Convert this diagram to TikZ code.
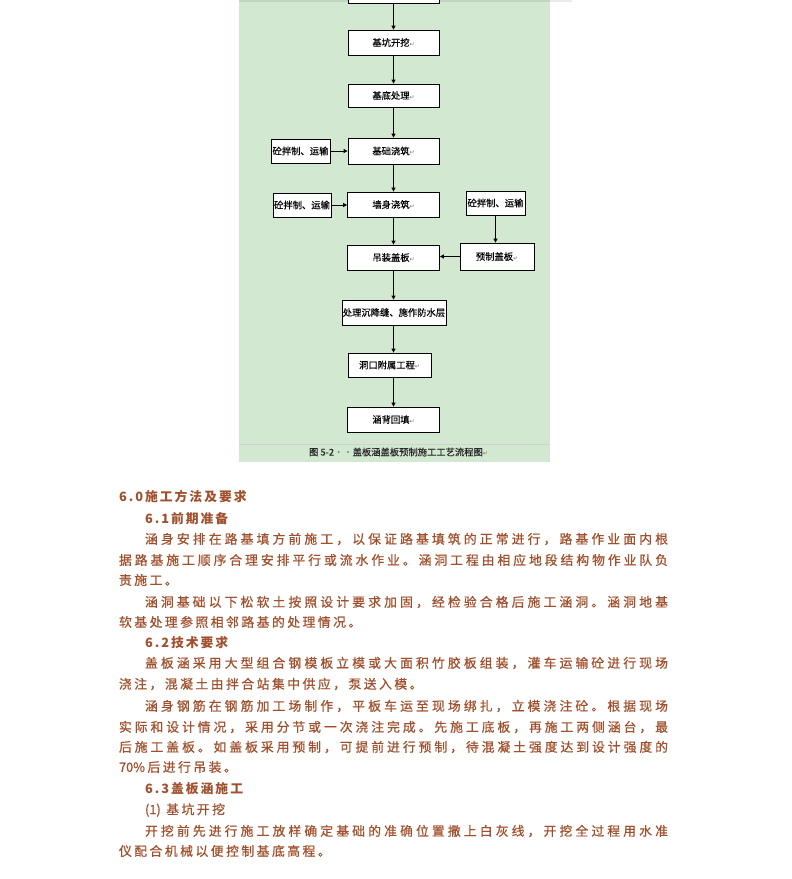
\documentclass[tikz,border=0pt]{standalone}
\usepackage{fontspec}
\setmainfont{Noto Sans CJK SC}
\newfontfamily\bodyfont{Noto Sans CJK SC}[FakeBold=0.7]
\newfontfamily\boxfont{Noto Sans CJK SC}[FakeBold=0.3]
\newfontfamily\symfont{DejaVu Sans}
\usetikzlibrary{arrows.meta}
\definecolor{panel}{HTML}{D3E8D0}
\definecolor{paneltop}{HTML}{C2D6BF}
\definecolor{txt}{RGB}{160,80,45}
\ExplSyntaxOn
\NewDocumentCommand \spreadto { m m }
  { \hbox_to_wd:nn {#1} { \tl_map_inline:nn {#2} { ##1 \hfil } \unskip } }
\NewDocumentCommand \natgap { m m }
  { \hbox:n { \tl_map_inline:nn {#2} { ##1 \skip_horizontal:n {#1} } \unskip } }
\ExplSyntaxOff
\newcommand\ret{{\symfont\fontsize{6}{6}\selectfont\color{black!55}↵}}
\tikzset{
  flowbox/.style={draw, line width=0.8pt, fill=white, inner sep=0pt,
    font=\boxfont\fontsize{9.3}{9.3}\selectfont, text=black},
  arr/.style={line width=0.8pt, -{Triangle[length=4pt,width=4pt]}},
  txtline/.style={anchor=west, inner sep=0pt, outer sep=0pt, text=txt,
    font=\bodyfont\fontsize{12.8}{12.8}\selectfont},
  headline/.style={anchor=west, inner sep=0pt, outer sep=0pt, text=txt,
    font=\fontsize{12.8}{12.8}\selectfont\bfseries}
}
\begin{document}
\begin{tikzpicture}[x=1pt, y=-1pt]
\useasboundingbox (0,0) rectangle (792,879);
\clip (0,0) rectangle (792,879);
\fill[white] (0,0) rectangle (792,879);
% panel
\fill[panel] (238.5,0) rectangle (550,462);
\fill[black!8] (550,0) rectangle (572,2);
\fill[paneltop] (238.5,0) rectangle (550,1.5);
\draw[black!18, line width=0.6pt] (238.5,444) -- (550,444);

% flow boxes
\node[flowbox, minimum width=91pt, minimum height=23pt] (k0) at (393.5,-8.5) {};
\node[flowbox, minimum width=91pt, minimum height=25pt] (k1) at (393.5,42.5) {基坑开挖\ret};
\node[flowbox, minimum width=91pt, minimum height=23pt] (k2) at (393.5,95.5) {基底处理\ret};
\node[flowbox, minimum width=91pt, minimum height=26pt] (k3) at (393.5,151) {基础浇筑\ret};
\node[flowbox, minimum width=92pt, minimum height=25pt] (k4) at (393.5,204.5) {墙身浇筑\ret};
\node[flowbox, minimum width=92pt, minimum height=25pt] (k5) at (393.5,257.5) {吊装盖板\ret};
\node[flowbox, minimum width=104pt, minimum height=25pt] (k6) at (394,312.5) {处理沉降缝、施作防水层};
\node[flowbox, minimum width=83pt, minimum height=24pt] (k7) at (389.5,365) {洞口附属工程\ret};
\node[flowbox, minimum width=92pt, minimum height=25pt] (k8) at (393.5,419.5) {涵背回填\ret};
\node[flowbox, minimum width=59pt, minimum height=24pt] (l1) at (300.5,151) {砼拌制、运输};
\node[flowbox, minimum width=58pt, minimum height=24pt] (l2) at (302,205) {砼拌制、运输};
\node[flowbox, minimum width=59pt, minimum height=24pt] (r1) at (495.5,203) {砼拌制、运输};
\node[flowbox, minimum width=74pt, minimum height=27pt] (r2) at (497,256.5) {预制盖板\ret};

% connectors
\draw[arr] (k0.south) -- (k1.north);
\draw[arr] (k1.south) -- (k2.north);
\draw[arr] (k2.south) -- (k3.north);
\draw[arr] (k3.south) -- (k4.north);
\draw[arr] (k4.south) -- (k5.north);
\draw[arr] (k5.south) -- (k5.south |- k6.north);
\draw[arr] (k5.south |- k6.south) -- (k5.south |- k7.north);
\draw[arr] (k5.south |- k7.south) -- (k8.north);
\draw[arr] (l1.east) -- (l1.east -| k3.west);
\draw[arr] (l2.east) -- (l2.east -| k4.west);
\draw[arr] (r1.south) -- (r1.south |- r2.north);
\draw[arr] (r2.west) -- (r2.west -| k5.east);

% caption
\node[inner sep=0pt, font=\boxfont\fontsize{9.3}{9.3}\selectfont, text=black!85] (cap) at (398.5,452)
  {图 5-2{\color{black!50}··}盖板涵盖板预制施工工艺流程图\ret};

% body text
\node[headline] (h60) at (119,497) {\natgap{2pt}{6.0施工方法及要求}};
\node[headline] (h61) at (145,519) {\natgap{2pt}{6.1前期准备}};
\node[txtline] (t1) at (145,539) {\spreadto{523pt}{涵身安排在路基填方前施工，以保证路基填筑的正常进行，路基作业面内根}};
\node[txtline] (t2) at (119,560) {\spreadto{549pt}{据路基施工顺序合理安排平行或流水作业。涵洞工程由相应地段结构物作业队负}};
\node[txtline] (t3) at (119,580) {\natgap{2.5pt}{责施工。}};
\node[txtline] (t4) at (145,602) {\spreadto{523pt}{涵洞基础以下松软土按照设计要求加固，经检验合格后施工涵洞。涵洞地基}};
\node[txtline] (t5) at (119,622) {\natgap{2.5pt}{软基处理参照相邻路基的处理情况。}};
\node[headline] (h62) at (145,643) {\natgap{2pt}{6.2技术要求}};
\node[txtline] (t6) at (145,663) {\spreadto{523pt}{盖板涵采用大型组合钢模板立模或大面积竹胶板组装，灌车运输砼进行现场}};
\node[txtline] (t7) at (119,684) {\natgap{2.5pt}{浇注，混凝土由拌合站集中供应，泵送入模。}};
\node[txtline] (t8) at (145,706) {\spreadto{523pt}{涵身钢筋在钢筋加工场制作，平板车运至现场绑扎，立模浇注砼。根据现场}};
\node[txtline] (t9) at (119,727) {\spreadto{549pt}{实际和设计情况，采用分节或一次浇注完成。先施工底板，再施工两侧涵台，最}};
\node[txtline] (t10) at (119,747) {\spreadto{549pt}{后施工盖板。如盖板采用预制，可提前进行预制，待混凝土强度达到设计强度的}};
\node[txtline] (t11) at (119,767) {\natgap{2.5pt}{{70\%}后进行吊装。}};
\node[headline] (h63) at (145,789) {\natgap{2pt}{6.3盖板涵施工}};
\node[txtline] (t12) at (145,810) {\natgap{2.5pt}{{(1)\kern3pt}基坑开挖}};
\node[txtline] (t13) at (145,831) {\spreadto{523pt}{开挖前先进行施工放样确定基础的准确位置撒上白灰线，开挖全过程用水准}};
\node[txtline] (t14) at (119,851) {\natgap{2.5pt}{仪配合机械以便控制基底高程。}};
\end{tikzpicture}
\end{document}
